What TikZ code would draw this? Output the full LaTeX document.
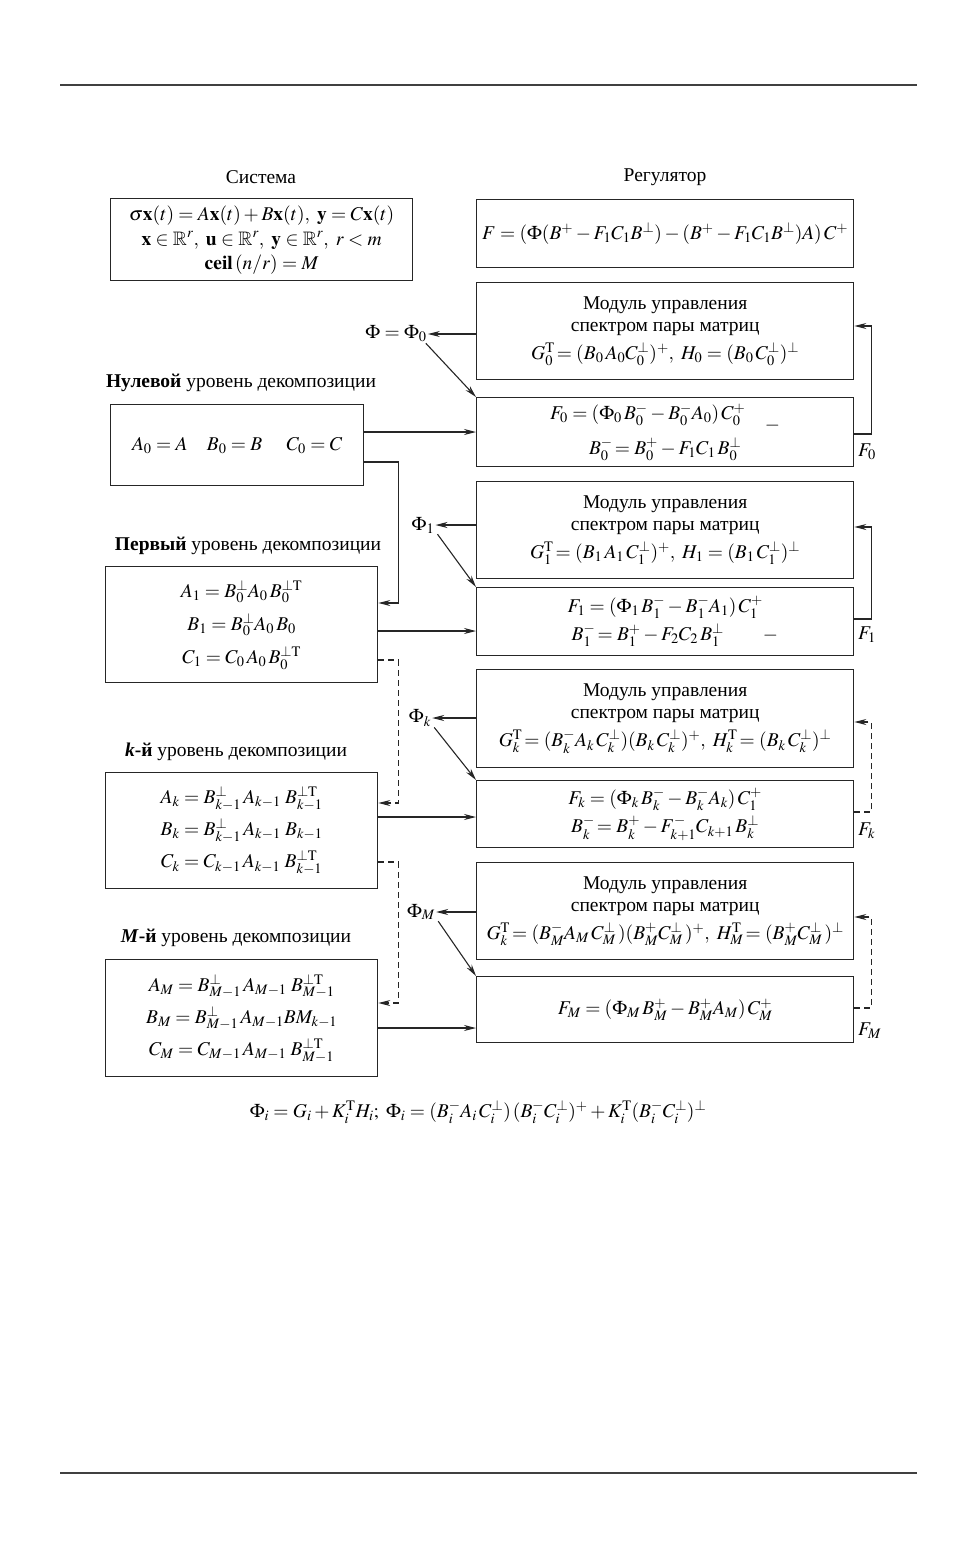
\documentclass[tikz,border=0pt]{standalone}
\usepackage{amsmath,amssymb}
\usepackage{mathptmx}
\usepackage[no-math]{fontspec}
\setmainfont{Liberation Serif}
\usetikzlibrary{arrows.meta, positioning}

\begin{document}
\begin{tikzpicture}[
    x=1pt, y=-1pt,
    font=\fontsize{19.5}{22}\selectfont,
    box/.style={
        draw=black!85,
        line width=1.3pt,
        align=center,
        inner sep=0pt,
        anchor=north west
    },
    modbox/.style={
        box,
        minimum width=377pt
    },
    lvlbox/.style={
        box,
        minimum width=272pt,
        minimum height=116pt
    },
    lbl/.style={
        inner sep=1pt
    },
    arrow/.style={
        -{Stealth[length=12pt,width=6pt]},
        line width=1.1pt,
        draw=black!85
    },
    fback/.style={
        arrow,
        dash pattern=on 6pt off 4pt
    },
    rule/.style={
        line width=1.2pt,
        draw=black!75
    }
]
\useasboundingbox (0,0) rectangle (976,1565);
\draw [rule] (60,85) -- (917,85);
\draw [rule] (60,1473) -- (917,1473);

% Nodes
\node (systitle) [lbl] at (261,177) {Система};
\node (sys) [box, minimum width=302pt, minimum height=82pt] at (110,198)
    {$\sigma\mathbf{x}(t) = A\mathbf{x}(t) + B\mathbf{x}(t),\ \mathbf{y} = C\mathbf{x}(t)$\\[3pt]
     $\mathbf{x}\in\mathbb{R}^r,\ \mathbf{u}\in\mathbb{R}^r,\ \mathbf{y}\in\mathbb{R}^r,\ r<m$\\[2pt]
     $\mathbf{ceil}\,(n/r) = M$};
\node (regtitle) [lbl] at (665,177) {Регулятор};
\node (reg) [modbox, minimum height=68pt] at (476,199)
    {$F = (\Phi(B^+ - F_1C_1B^\perp) - (B^+ - F_1C_1B^\perp)A)\,C^+$};

\node (mod0) [modbox, minimum height=97pt] at (476,282)
    {Модуль управления\\спектром пары матриц\\[6pt]
     $G_0^{\mathrm T}\!= (B_0\,A_0C_0^\perp)^+,\ H_0 = (B_0\,C_0^\perp)^\perp$};
\node (f0) [modbox, minimum height=69pt] at (476,397)
    {$F_0 = (\Phi_0\,B_0^- - B_0^-A_0)\,C_0^+$\quad\raisebox{-1.2ex}{$-$}\\[4pt]
     $B_0^-\!= B_0^+ - F_1C_1\,B_0^\perp$};
\node (phi0) [lbl] at (396,334) {$\Phi = \Phi_0$};
\node (lvl0) [lbl] at (241,383) {\textbf{Нулевой} уровень декомпозиции};
\node (box0) [box, minimum width=253pt, minimum height=81pt] at (110,404)
    {$A_0 = A\quad B_0 = B\quad\ C_0 = C$};

\node (mod1) [modbox, minimum height=97pt] at (476,481)
    {Модуль управления\\спектром пары матриц\\[6pt]
     $G_1^{\mathrm T}\!= (B_1\,A_1\,C_1^\perp)^+,\ H_1 = (B_1\,C_1^\perp)^\perp$};
\node (f1) [modbox, minimum height=68pt] at (476,587)
    {$F_1 = (\Phi_1\,B_1^- - B_1^-A_1)\,C_1^+$\\[4pt]
     $\quad B_1^-\!= B_1^+ - F_2C_2\,B_1^\perp\qquad -$};
\node (phi1) [lbl] at (423,525) {$\Phi_1$};
\node (lvl1) [lbl] at (248,546) {\textbf{Первый} уровень декомпозиции};
\node (box1) [lvlbox] at (105,566)
    {$A_1 = B_0^\perp A_0\,B_0^{\perp\mathrm T}$\\[9pt]
     $B_1 = B_0^\perp A_0\,B_0$\\[9pt]
     $C_1 = C_0\,A_0\,B_0^{\perp\mathrm T}$};

\node (modk) [modbox, minimum height=98pt] at (476,669)
    {Модуль управления\\спектром пары матриц\\[6pt]
     $G_k^{\mathrm T}\!= (B_k^-A_k\,C_k^\perp)(B_k\,C_k^\perp)^+,\ H_k^{\mathrm T}\!= (B_k\,C_k^\perp)^\perp$};
\node (fk) [modbox, minimum height=67pt] at (476,780)
    {$F_k = (\Phi_k\,B_k^- - B_k^-A_k)\,C_1^+$\\[4pt]
     $B_k^-\!= B_k^+ - F_{k+1}^-C_{k+1}\,B_k^\perp$};
\node (phik) [lbl] at (420,718) {$\Phi_k$};
\node (lvlk) [lbl] at (236,752) {\textbf{\textit{k}-й} уровень декомпозиции};
\node (boxk) [lvlbox] at (105,772)
    {$A_k = B_{k-1}^\perp\,A_{k-1}\;B_{k-1}^{\perp\mathrm T}$\\[7pt]
     $B_k = B_{k-1}^\perp\,A_{k-1}\;B_{k-1}$\\[7pt]
     $C_k = C_{k-1}\,A_{k-1}\;B_{k-1}^{\perp\mathrm T}$};

\node (modM) [modbox, minimum height=97pt] at (476,862)
    {Модуль управления\\спектром пары матриц\\[6pt]
     $G_k^{\mathrm T}\!= (B_M^-A_M\,C_M^\perp\,)(B_M^+C_M^\perp\,)^+,\ H_M^{\mathrm T}\!= (B_M^+C_M^\perp\,)^\perp$};
\node (fM) [modbox, minimum height=66pt] at (476,976)
    {$F_M = (\Phi_M\,B_M^+ - B_M^+A_M)\,C_M^+$};
\node (phiM) [lbl] at (421,912) {$\Phi_M$};
\node (lvlM) [lbl] at (236,938) {\textbf{\textit{M}-й} уровень декомпозиции};
\node (boxM) [lvlbox, minimum height=117pt] at (105,959)
    {$A_M = B_{M-1}^\perp\,A_{M-1}\;B_{M-1}^{\perp\mathrm T}$\\[7pt]
     $B_M = B_{M-1}^\perp\,A_{M-1}BM_{k-1}$\\[7pt]
     $C_M = C_{M-1}\,A_{M-1}\;B_{M-1}^{\perp\mathrm T}$};

\node (phii) [lbl] at (478,1112)
    {$\Phi_i = G_i + K_i^{\mathrm T}H_i;\ \Phi_i = (B_i^-A_i\,C_i^\perp)\,(B_i^-C_i^\perp)^+ + K_i^{\mathrm T}(B_i^-C_i^\perp)^\perp$};

% Feedback labels
\node (lf0) [lbl, anchor=west] at (857,452) {$F_0$};
\node (lf1) [lbl, anchor=west] at (857,635) {$F_1$};
\node (lfk) [lbl, anchor=west] at (857,831) {$F_k$};
\node (lfM) [lbl, anchor=west] at (857,1031) {$F_M$};

% Paths
\draw [arrow] (mod0.west |- phi0) -- (phi0.east);
\draw [arrow] ([xshift=-2pt]phi0.south east) -- (f0.north west);
\draw [arrow] (box0.east |- 0,432) -- (f0.west |- 0,432);
\draw [arrow] (f0.east |- 0,434) -- ++(17,0) |- (mod0.east |- 0,326);
\draw [arrow] (box0.east |- 0,462) -- ++(34,0) |- (box1.east |- 0,603);

\draw [arrow] (mod1.west |- phi1) -- (phi1.east);
\draw [arrow] ([xshift=2pt]phi1.south east) -- (f1.north west);
\draw [arrow] (box1.east |- 0,631) -- (f1.west |- 0,631);
\draw [arrow] (f1.east |- 0,619) -- ++(17,0) |- (mod1.east |- 0,527);
\draw [fback] (box1.east |- 0,660) -- ++(20,0) |- (boxk.east |- 0,803);

\draw [arrow] (modk.west |- phik) -- (phik.east);
\draw [arrow] ([xshift=2pt]phik.south east) -- (fk.north west);
\draw [arrow] (boxk.east |- 0,817) -- (fk.west |- 0,817);
\draw [fback] (fk.east |- 0,812) -- ++(17,0) |- (modk.east |- 0,722);
\draw [fback] (boxk.east |- 0,862) -- ++(20,0) |- (boxM.east |- 0,1003);

\draw [arrow] (modM.west |- phiM) -- (phiM.east);
\draw [arrow] ([xshift=2pt]phiM.south east) -- (fM.north west);
\draw [arrow] (boxM.east |- 0,1028) -- (fM.west |- 0,1028);
\draw [fback] (fM.east |- 0,1008) -- ++(17,0) |- (modM.east |- 0,917);

\end{tikzpicture}
\end{document}
